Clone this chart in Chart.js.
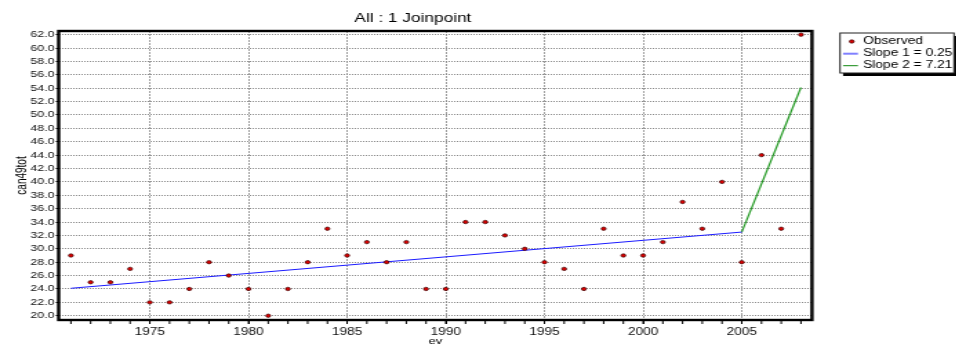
<!DOCTYPE html>
<html>
<head>
<meta charset="utf-8">
<title>All : 1 Joinpoint</title>
<script src="https://cdn.jsdelivr.net/npm/chart.js@4.4.1/dist/chart.umd.min.js"></script>
<style>
  html, body { margin: 0; padding: 0; background: #fff; overflow: hidden; }
  /* the source screenshot is stretched sideways, so the canvas is too */
  #jpChart { display: block; transform: scaleX(1.38); transform-origin: 0 0; }
</style>
</head>
<body>
<canvas id="jpChart" width="693" height="347" style="width:693px;height:347px"></canvas>
<script>
const years = [1971, 1972, 1973, 1974, 1975, 1976, 1977, 1978, 1979, 1980,
               1981, 1982, 1983, 1984, 1985, 1986, 1987, 1988, 1989, 1990,
               1991, 1992, 1993, 1994, 1995, 1996, 1997, 1998, 1999, 2000,
               2001, 2002, 2003, 2004, 2005, 2006, 2007, 2008];
const observed = [29, 25, 25, 27, 22, 22, 24, 28, 26, 24,
                  20, 24, 28, 33, 29, 31, 28, 31, 24, 24,
                  34, 34, 32, 30, 28, 27, 24, 33, 29, 29,
                  31, 37, 33, 40, 28, 44, 33, 62];

const seg1Years = [1971, 2005];
const seg1Fit = [24.1, 32.5];
const seg2Years = [2005, 2008];
const seg2Fit = [32.5, 54.1];

const xTicks = [1975, 1980, 1985, 1990, 1995, 2000, 2005];
const yTicks = [20, 22, 24, 26, 28, 30, 32, 34, 36, 38, 40, 42, 44, 46, 48, 50, 52, 54, 56, 58, 60, 62];
const legendLabels = ['Observed', 'Slope 1 = 0.25', 'Slope 2 = 7.21'];

const FONT = 'Liberation Sans, Arial, sans-serif';
Chart.defaults.font.family = FONT;
Chart.defaults.color = '#000';

const pts = (xs, ys) => xs.map((x, i) => ({ x: x, y: ys[i] }));

// year ticks, plot frame and the boxed legend
const decor = {
  id: 'decor',
  afterDraw(chart) {
    const ctx = chart.ctx;
    const a = chart.chartArea;
    const xs = chart.scales.x;
    ctx.save();

    ctx.strokeStyle = '#000';
    ctx.lineWidth = 1;
    years.forEach(y => {
      const px = xs.getPixelForValue(y);
      ctx.beginPath();
      ctx.moveTo(px, a.bottom);
      ctx.lineTo(px, a.bottom + 4);
      ctx.stroke();
    });

    ctx.lineWidth = 2.4;
    ctx.strokeRect(a.left, a.top, a.right - a.left, a.bottom - a.top);

    // legend box with drop shadow
    const bx = 608.7, by = 33, bw = 82.6, bh = 40;
    ctx.fillStyle = '#000';
    ctx.fillRect(bx + 2.2, by + 3, bw, bh);
    ctx.fillStyle = '#fff';
    ctx.fillRect(bx, by, bw, bh);
    ctx.lineWidth = 1;
    ctx.strokeStyle = '#222';
    ctx.strokeRect(bx, by, bw, bh);

    ctx.font = '10px ' + FONT;
    ctx.textBaseline = 'middle';
    ctx.textAlign = 'left';
    ctx.fillStyle = '#000';
    const rows = [41.5, 53.7, 65.7];
    legendLabels.forEach((t, i) => ctx.fillText(t, 625.4, rows[i]));

    ctx.beginPath();
    ctx.arc(617.2, rows[0], 1.7, 0, Math.PI * 2);
    ctx.fillStyle = '#dd0000';
    ctx.fill();
    ctx.strokeStyle = '#3a0000';
    ctx.lineWidth = 0.7;
    ctx.stroke();

    ctx.lineWidth = 2;
    ctx.strokeStyle = '#8080ff';
    ctx.beginPath(); ctx.moveTo(610.9, rows[1]); ctx.lineTo(621.7, rows[1]); ctx.stroke();
    ctx.lineWidth = 1;
    ctx.strokeStyle = '#118811';
    ctx.beginPath(); ctx.moveTo(610.9, rows[2]); ctx.lineTo(621.7, rows[2]); ctx.stroke();

    ctx.restore();
  }
};

new Chart(document.getElementById('jpChart'), {
  type: 'scatter',
  data: {
    datasets: [
      {
        label: legendLabels[0],
        data: pts(years, observed),
        pointRadius: 1.7,
        pointBackgroundColor: '#dd0000',
        pointBorderColor: '#3a0000',
        pointBorderWidth: 0.7,
      },
      {
        label: legendLabels[1],
        data: pts(seg1Years, seg1Fit),
        showLine: true,
        borderColor: '#1a1aff',
        borderWidth: 1,
        pointRadius: 0,
      },
      {
        label: legendLabels[2],
        data: pts(seg2Years, seg2Fit),
        showLine: true,
        borderColor: '#229922',
        borderWidth: 1.2,
        pointRadius: 0,
      }
    ]
  },
  options: {
    responsive: false,
    animation: false,
    layout: { padding: { left: 10, right: 104.6, top: 0, bottom: 0 } },
    plugins: {
      legend: { display: false },
      tooltip: { enabled: false },
      title: {
        display: true,
        text: 'All : 1 Joinpoint',
        font: { size: 12.5, weight: 'normal' },
        color: '#000',
        padding: { top: 11, bottom: 5 }
      }
    },
    scales: {
      x: {
        type: 'linear',
        min: 1970.38,
        max: 2008.56,
        afterBuildTicks: s => { s.ticks = xTicks.map(v => ({ value: v })); },
        afterFit: s => { s.height = 27; },
        ticks: { font: { size: 10 }, color: '#111', padding: 2, maxRotation: 0, autoSkip: false, callback: v => String(v) },
        grid: { color: '#a0a0a0', tickColor: '#000', tickLength: 4 },
        border: { display: false, dash: [2, 1] },
        title: { display: true, text: 'ev', font: { size: 9.5 }, color: '#000', padding: { top: 0, bottom: 0 } }
      },
      y: {
        min: 19.36,
        max: 62.55,
        afterBuildTicks: s => { s.ticks = yTicks.map(v => ({ value: v })); },
        afterFit: s => { s.width = 32.5; },
        ticks: { font: { size: 9 }, color: '#111', padding: 1, autoSkip: false, callback: v => v.toFixed(1) },
        grid: { color: '#8a8a8a', tickColor: '#000', tickLength: 2 },
        border: { display: false, dash: [1, 1] },
        title: { display: true, text: 'can49tot', font: { size: 10 }, color: '#000', padding: 0 }
      }
    }
  },
  plugins: [decor]
});
</script>
</body>
</html>
